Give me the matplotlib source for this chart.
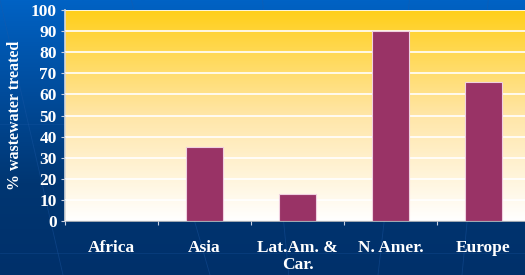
import numpy as np
import matplotlib.pyplot as plt
from matplotlib.colors import LinearSegmentedColormap

regions = ["Africa", "Asia", "Lat.Am. &\nCar.", "N. Amer.", "Europe"]
pct_treated = [0, 35, 13, 90, 66]
yticks = list(range(0, 101, 10))

plt.rcParams['font.family'] = ['Liberation Serif', 'DejaVu Serif']
plt.rcParams['font.weight'] = 'bold'

W, H = 525, 275
fig = plt.figure(figsize=(W / 100, H / 100), dpi=100)

# blue slide background
bg = fig.add_axes([0, 0, 1, 1], zorder=-10)
grad = np.linspace(0, 1, 256).reshape(-1, 1)
bg_cmap = LinearSegmentedColormap.from_list("bg", ["#0062C4", "#004C9C", "#003672", "#00306A"])
bg.imshow(grad, aspect='auto', cmap=bg_cmap, extent=[0, 1, 0, 1], origin='upper')
for x0, x1 in [(0.0, 0.12), (0.25, 0.4), (0.5, 0.55), (0.78, 0.72), (0.93, 0.88)]:
    bg.plot([x0, x1], [1, 0], color="#1E5AA8", lw=0.6, alpha=0.4)
bg.plot([0, 1], [0.55, 0.55], color="#1E5AA8", lw=0.6, alpha=0.3)
bg.plot([0, 1], [0.08, 0.08], color="#1E5AA8", lw=0.6, alpha=0.3)
bg.set_xlim(0, 1)
bg.set_ylim(0, 1)
bg.axis('off')

left, right, top, bottom = 65, 530, 10, 221
ax = fig.add_axes([left / W, 1 - bottom / H, (right - left) / W, (bottom - top) / H])

# gold-to-white plot area
pa_cmap = LinearSegmentedColormap.from_list("pa", ["#FFCF1A", "#FFE6A8", "#FFFFFF"])
ax.imshow(grad, aspect='auto', cmap=pa_cmap, extent=[-0.5, len(regions) - 0.5, 0, 100],
          origin='upper', zorder=0)

x = np.arange(len(regions))
ax.bar(x, pct_treated, width=0.4, color="#993366", edgecolor="#F0D0E0", linewidth=0.8, zorder=3)

ax.set_xlim(-0.5, len(regions) - 0.5)
ax.set_ylim(0, 100)
ax.set_yticks(yticks)
ax.set_yticklabels([str(t) for t in yticks], color="white", fontsize=12.5)
ax.yaxis.grid(True, color="white", lw=1.2, zorder=1)
ax.set_axisbelow(False)

ax.set_xticks(x - 0.5, minor=False)
ax.set_xticklabels([])
ax.set_xticks(x, minor=True)
ax.set_xticklabels(regions, minor=True, color="white", fontsize=12.5, linespacing=1.05, va='top')
ax.tick_params(axis='x', which='minor', length=0, pad=14)
ax.tick_params(axis='x', which='major', length=3, color="#C8D0E0", direction='out')
ax.tick_params(axis='y', length=3, color="#C8D0E0", direction='out', pad=3)

for s in ['top', 'right']:
    ax.spines[s].set_visible(False)
ax.spines['left'].set_color("#D8D8D8")
ax.spines['bottom'].set_color("#C0C0C0")
ax.spines['left'].set_linewidth(1.2)
ax.spines['bottom'].set_linewidth(1.2)

fig.text(15 / W, 1 - 115 / H, "% wastewater treated", rotation=90, color="white",
         fontsize=11.5, fontweight='bold', ha='center', va='center')

fig.savefig("out.png", dpi=100)
